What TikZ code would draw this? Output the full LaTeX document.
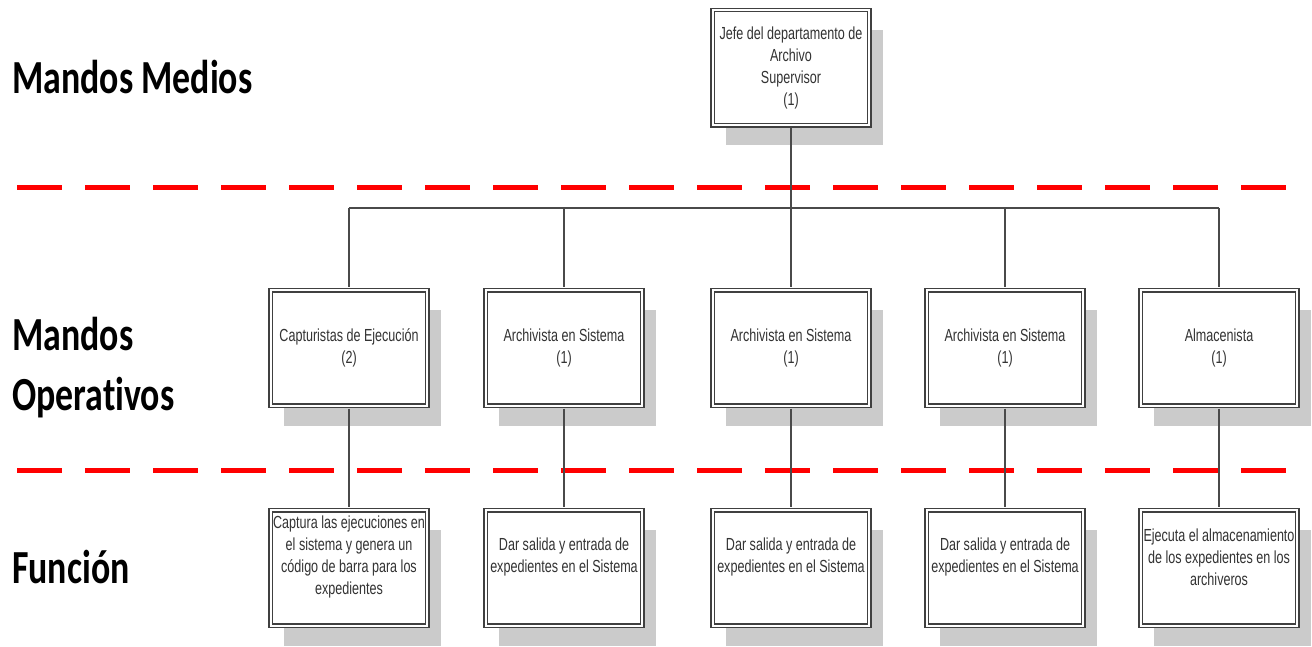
\documentclass[tikz,border=0pt]{standalone}
\usepackage{fontspec}
\setmainfont{Liberation Sans}[FakeStretch=0.72]
\newfontfamily\headfont{Carlito}[FakeStretch=0.755, Ligatures=NoCommon]
\usetikzlibrary{shadows}

\definecolor{boxgray}{HTML}{404040}
\definecolor{shadowgray}{HTML}{CBCBCB}
\definecolor{textgray}{HTML}{333333}
\definecolor{linegray}{HTML}{4A4A4A}

\newcommand{\boxfont}{\fontsize{13.1pt}{16.5pt}\selectfont}
\newcommand{\levelfont}{\headfont\bfseries\fontsize{35.6pt}{45pt}\selectfont}

\tikzset{
  orgbox/.style={draw=boxgray, double=white, double distance=1.6pt,
    line width=1pt, fill=white, minimum width=117.5pt, minimum height=86.4pt,
    inner sep=0pt, align=center, font=\boxfont, text=textgray,
    drop shadow={shadow xshift=10pt, shadow yshift=-15pt,
      fill=shadowgray, opacity=1}},
  functext/.style={yshift=8.25pt, align=center, font=\boxfont, text=textgray,
    inner sep=0pt},
  link/.style={draw=linegray, line width=1.3pt},
  fromtop/.style={shorten <=1.8pt},
  totop/.style={shorten >=1.8pt},
  levelsep/.style={draw=red, line width=3.75pt,
    dash pattern=on 33.75pt off 17.25pt},
  level/.style={anchor=base west, inner sep=0pt, align=left, font=\levelfont,
    text=black}
}

\begin{document}
\begin{tikzpicture}[x=0.75pt, y=-0.75pt]
\useasboundingbox (0,0) rectangle (1312,646);

% level separators
\draw[levelsep] (17,187) -- (1286,187);
\draw[levelsep] (17,470) -- (1296,470);

% level names (a multi-line node sits on the baseline of its last line)
\node[level] (lvl1) at (12,93) {Mandos Medios};
\node[level] (lvl2) at (12,410) {Mandos\\Operativos};
\node[level] (lvl3) at (12,583) {Función};

% head of the department
\node[orgbox] (jefe) at (791,67.5)
  {Jefe del departamento de\\Archivo\\Supervisor\\(1)};

% operative staff
\node[orgbox] (op1) at (349,348) {Capturistas de Ejecución\\(2)};
\node[orgbox] (op2) at (564,348) {Archivista en Sistema\\(1)};
\node[orgbox] (op3) at (791,348) {Archivista en Sistema\\(1)};
\node[orgbox] (op4) at (1005,348) {Archivista en Sistema\\(1)};
\node[orgbox] (op5) at (1219,348) {Almacenista\\(1)};

% functions
\node[orgbox, label={[functext]center:{Captura las ejecuciones en\\el sistema y genera un\\código de barra para los\\expedientes}}] (fn1) at (349,568) {};
\node[orgbox, label={[functext]center:{Dar salida y entrada de\\expedientes en el Sistema}}] (fn2) at (564,568) {};
\node[orgbox, label={[functext]center:{Dar salida y entrada de\\expedientes en el Sistema}}] (fn3) at (791,568) {};
\node[orgbox, label={[functext]center:{Dar salida y entrada de\\expedientes en el Sistema}}] (fn4) at (1005,568) {};
\node[orgbox, label={[functext]center:{Ejecuta el almacenamiento\\de los expedientes en los\\archiveros}}] (fn5) at (1219,568) {};

% connectors
\coordinate (bus) at (791,208);
\draw[link, fromtop] (jefe.south) -- (jefe.south |- bus);
\draw[link] (op1.north |- bus) -- (op5.north |- bus);
\foreach \i in {1,...,5}{
  \draw[link, totop] (op\i.north |- bus) -- (op\i.north);
  \draw[link, fromtop, totop] (op\i.south) -- (fn\i.north);
}
\end{tikzpicture}
\end{document}
